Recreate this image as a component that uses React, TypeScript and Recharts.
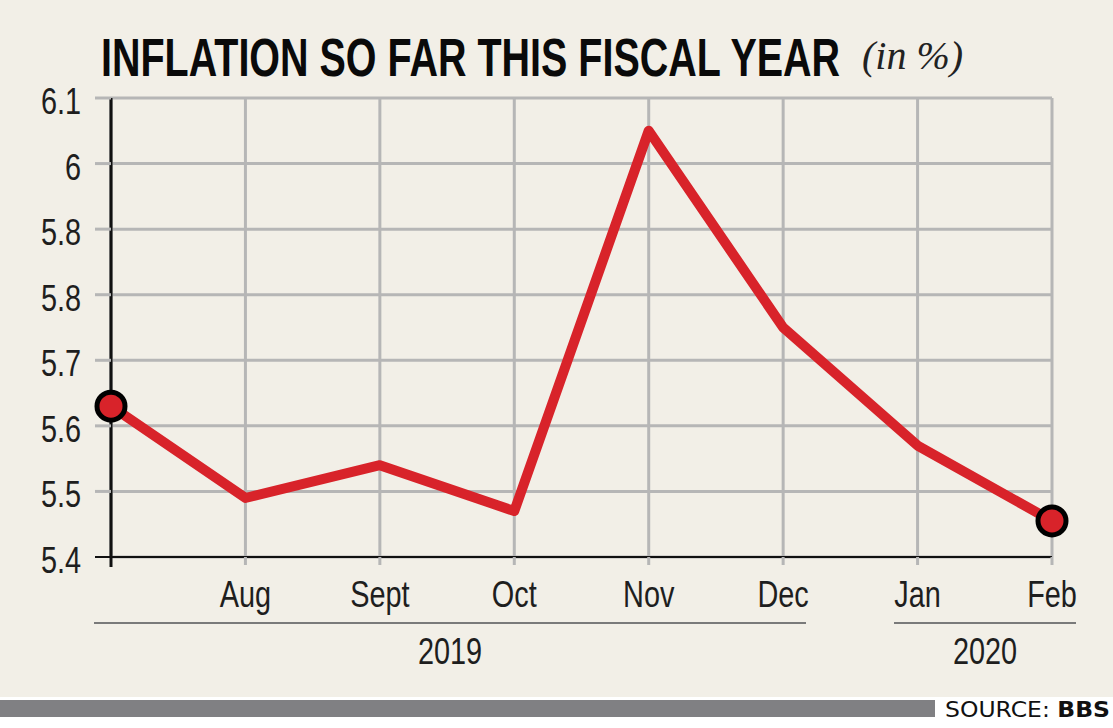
import React from "react";
import { LineChart, Line, XAxis, YAxis, CartesianGrid } from "recharts";

const months = ["Jul", "Aug", "Sept", "Oct", "Nov", "Dec", "Jan", "Feb"];
const inflation = [5.63, 5.49, 5.54, 5.47, 6.05, 5.75, 5.57, 5.455];
const yTicks = [5.4, 5.5, 5.6, 5.7, 5.8, 5.9, 6.0, 6.1];
const yTickLabels = ["5.4", "5.5", "5.6", "5.7", "5.8", "5.8", "6", "6.1"];
const hiddenMonthLabels = ["Jul"];
const title = "INFLATION SO FAR THIS FISCAL YEAR";
const unit = "(in %)";
const yearLabels = ["2019", "2020"];

const data = months.map((m, i) => ({ month: m, value: inflation[i] }));

const BG = "#f2efe7";
const RED = "#d8232a";
const GRID = "#b6b6b6";
const FONT = "'Liberation Sans', Arial, sans-serif";
const SX = 0.78;
const FS = 37;

const NarrowText = ({ x, y, anchor, size = FS, sx = SX, weight = "normal", fill = "#1e1e1e", children }: any) => (
  <text
    transform={`translate(${x},${y}) scale(${sx},1)`}
    textAnchor={anchor}
    fontFamily={FONT}
    fontSize={size}
    fontWeight={weight}
    fill={fill}
  >
    {children}
  </text>
);

const YTick = (props: any) => {
  const { y, payload, index } = props;
  const lbl = yTickLabels[yTicks.indexOf(payload.value)] ?? String(payload.value);
  const isBase = index === 0;
  return (
    <g>
      <line x1={95} x2={111} y1={y} y2={y} stroke={isBase ? "#111" : GRID} strokeWidth={isBase ? 2 : 3} />
      <NarrowText x={81} y={y + 16} anchor="end">
        {lbl}
      </NarrowText>
    </g>
  );
};

const XTick = (props: any) => {
  const { x, y, payload, index } = props;
  const hidden = hiddenMonthLabels.includes(payload.value);
  return (
    <g>
      <line x1={x} x2={x} y1={y} y2={y + (index === 0 ? 10 : 8)} stroke={index === 0 ? "#111" : GRID} strokeWidth={3} />
      {!hidden && (
        <NarrowText x={x} y={y + 50} anchor="middle">
          {payload.value}
        </NarrowText>
      )}
    </g>
  );
};

const EndDot = (props: any) => {
  const { cx, cy, index } = props;
  if (index !== 0 && index !== data.length - 1) return <g key={`d${index}`} />;
  return <circle key={`d${index}`} cx={cx} cy={cy} r={14} fill={RED} stroke="#000" strokeWidth={5} />;
};

export default function App() {
  const plotLeft = 111;
  const plotRight = 1052;
  const groupLines = [
    { x1: 94, x2: 806, cx: 450 },
    { x1: 894, x2: 1076, cx: 985 },
  ];
  return (
    <div style={{ position: "absolute", left: 0, top: 0, width: 1113, height: 728, background: BG, overflow: "hidden" }}>
      <div style={{ position: "absolute", left: 0, top: 0 }}>
        <LineChart
          width={1113}
          height={728}
          data={data}
          margin={{ top: 98, right: 1113 - plotRight, bottom: 0, left: 0 }}
        >
          <CartesianGrid stroke={GRID} strokeWidth={3} vertical horizontal />
          <XAxis
            dataKey="month"
            type="category"
            interval={0}
            tickSize={0}
            tickMargin={0}
            tick={<XTick />}
            axisLine={{ stroke: "#111", strokeWidth: 2 }}
            tickLine={false}
            height={728 - 557}
          />
          <YAxis
            type="number"
            domain={[5.4, 6.1]}
            ticks={yTicks}
            width={plotLeft}
            tickSize={0}
            tickMargin={0}
            tick={<YTick />}
            axisLine={{ stroke: "#111", strokeWidth: 3 }}
            tickLine={false}
            allowDataOverflow
          />
          <Line
            type="linear"
            dataKey="value"
            stroke={RED}
            strokeWidth={10}
            strokeLinejoin="round"
            dot={<EndDot />}
            activeDot={false}
            isAnimationActive={false}
          />
        </LineChart>
      </div>
      <svg width={1113} height={728} style={{ position: "absolute", left: 0, top: 0, pointerEvents: "none" }}>
        <NarrowText x={101} y={76} anchor="start" size={53} sx={0.745} weight="bold" fill="#0a0a0a">
          {title}
        </NarrowText>
        <text x={862} y={69} fontFamily="'Liberation Serif', serif" fontStyle="italic" fontSize={40} fill="#222">
          {unit}
        </text>
        {yearLabels.map((lbl, i) => (
          <g key={lbl}>
            <line x1={groupLines[i].x1} x2={groupLines[i].x2} y1={623} y2={623} stroke="#7a7a7a" strokeWidth={2} />
            <NarrowText x={groupLines[i].cx} y={664} anchor="middle">
              {lbl}
            </NarrowText>
          </g>
        ))}
        <rect x={0} y={697} width={1113} height={31} fill="#ffffff" />
        <rect x={0} y={700} width={935} height={17} fill="#808083" />
        <text
          x={945}
          y={717}
          fontFamily="'DejaVu Sans', sans-serif"
          fontSize={21}
          fill="#111"
          textLength={165}
          lengthAdjust="spacingAndGlyphs"
        >
          SOURCE: <tspan fontWeight="bold">BBS</tspan>
        </text>
      </svg>
    </div>
  );
}
